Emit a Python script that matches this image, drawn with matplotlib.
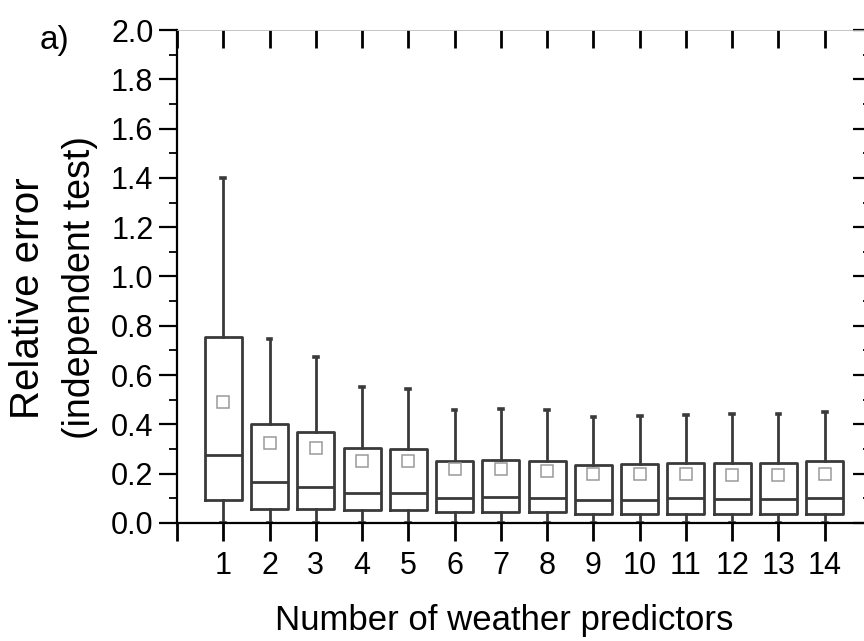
import matplotlib
matplotlib.use('Agg')
import matplotlib.pyplot as plt
from matplotlib.ticker import MultipleLocator

plt.rcParams['font.family'] = ['Liberation Sans', 'DejaVu Sans']

predictors = list(range(1, 15))
q1 = [0.093, 0.058, 0.058, 0.053, 0.053, 0.043, 0.043, 0.043, 0.037, 0.037, 0.037, 0.037, 0.037, 0.037]
median = [0.276, 0.166, 0.145, 0.123, 0.123, 0.103, 0.104, 0.100, 0.093, 0.095, 0.100, 0.098, 0.098, 0.100]
q3 = [0.753, 0.400, 0.370, 0.305, 0.300, 0.253, 0.256, 0.252, 0.235, 0.238, 0.242, 0.242, 0.242, 0.250]
whislo = [0.0] * 14
whishi = [1.40, 0.745, 0.675, 0.550, 0.544, 0.458, 0.464, 0.458, 0.431, 0.434, 0.440, 0.442, 0.442, 0.449]
mean = [0.490, 0.326, 0.305, 0.250, 0.250, 0.218, 0.218, 0.210, 0.197, 0.197, 0.197, 0.194, 0.194, 0.197]

stats = []
for i in range(len(predictors)):
    stats.append({'med': median[i], 'q1': q1[i], 'q3': q3[i],
                  'whislo': whislo[i], 'whishi': whishi[i],
                  'mean': mean[i], 'fliers': []})

fig = plt.figure(figsize=(8.64, 6.41), dpi=100)
ax = fig.add_axes([177 / 864, (641 - 523) / 641, (871 - 177) / 864, (523 - 30) / 641])

col = '#3a3a3a'
ax.bxp(stats, positions=predictors, widths=0.8, showmeans=True,
       boxprops=dict(color=col, linewidth=2.0),
       medianprops=dict(color=col, linewidth=2.0),
       whiskerprops=dict(color=col, linewidth=2.0),
       capprops=dict(color=col, linewidth=2.6),
       meanprops=dict(marker='s', markerfacecolor='white', markeredgecolor='#9a9a9a',
                      markersize=8, markeredgewidth=1.1),
       capwidths=0.08)

ax.set_xlim(0, 15)
ax.set_ylim(0, 2.0)
ax.set_xticks(range(0, 16))
ax.set_xticklabels([''] + [str(p) for p in predictors] + [''])
ax.yaxis.set_major_locator(MultipleLocator(0.2))
ax.yaxis.set_minor_locator(MultipleLocator(0.1))
ax.yaxis.set_major_formatter(matplotlib.ticker.FormatStrFormatter('%.1f'))

for s in ax.spines.values():
    s.set_linewidth(1.6)
    s.set_color('black')
ax.spines['top'].set_linewidth(0.6)
ax.spines['top'].set_color('#bbbbbb')

ax.tick_params(axis='y', which='major', direction='out', length=13, width=1.6,
               labelsize=22, pad=4, right=True)
ax.tick_params(axis='y', which='minor', direction='out', length=6, width=1.3, right=True)
ax.tick_params(axis='x', which='major', direction='out', length=13, width=2.0,
               labelsize=22, pad=7, top=True)
ax.tick_params(axis='x', which='minor', bottom=False, top=False)
for t in ax.yaxis.get_ticklines(minor=False)[1::2]:
    t.set_marker(0)
for t in ax.yaxis.get_ticklines(minor=True)[1::2]:
    t.set_marker(0)
for t in ax.xaxis.get_ticklines()[1::2]:
    t.set_marker(3)

# axis titles placed in pixel positions
fig.text(504 / 864, 1 - 630 / 641, 'Number of weather predictors', fontsize=25,
         ha='center', va='baseline')
fig.text(28 / 864, 1 - 298 / 641, 'Relative error', fontsize=29,
         rotation=90, ha='center', va='center')
fig.text(80 / 864, 1 - 287 / 641, '(independent test)', fontsize=27,
         rotation=90, ha='center', va='center')
fig.text(40 / 864, 1 - 40 / 641, 'a)', fontsize=24, ha='left', va='center')

fig.savefig('out.png', dpi=100)
